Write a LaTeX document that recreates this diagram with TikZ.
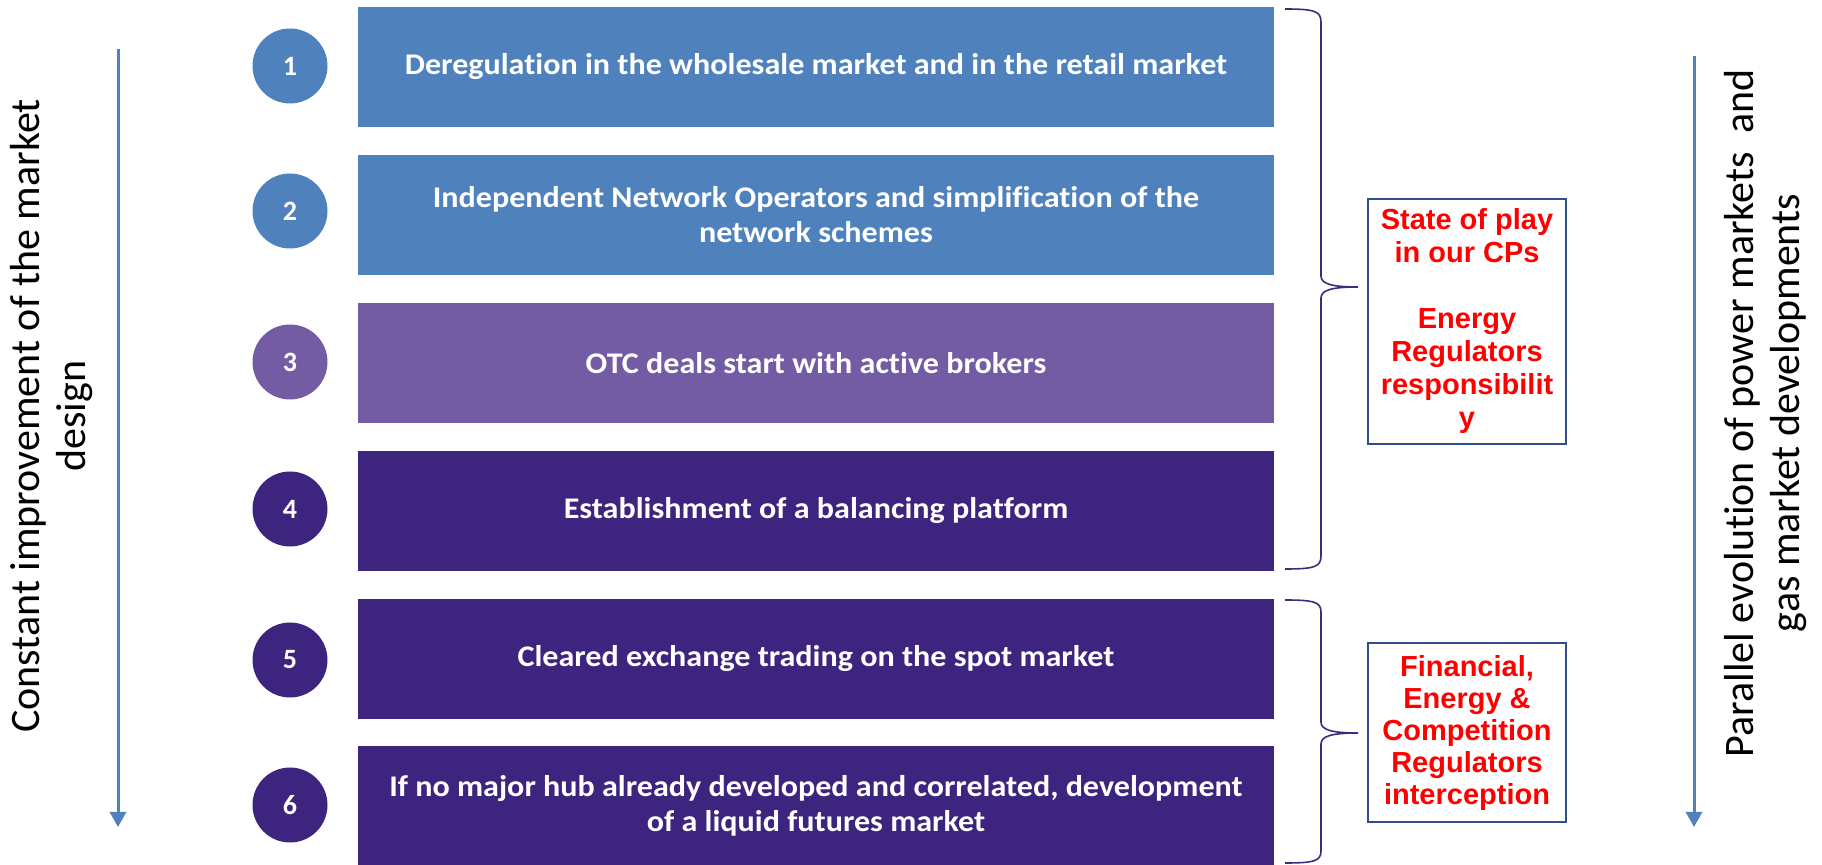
\documentclass[tikz,border=0pt]{standalone}
\usepackage{fontspec}
\setmainfont{Carlito}[Ligatures=NoCommon]
\newfontfamily\stepfont{Carlito}[FakeStretch=1.07, Ligatures=NoCommon]
\newfontfamily\notefont{Liberation Sans}
\usetikzlibrary{arrows.meta}

\definecolor{stepblue}{HTML}{4F81BD}
\definecolor{stepmauve}{HTML}{735CA3}
\definecolor{stepdark}{HTML}{3D247E}
\definecolor{bracecol}{HTML}{3F2A80}
\definecolor{frameblue}{HTML}{2E4F8C}
\definecolor{notered}{HTML}{FF0000}

\tikzset{
  stepbox/.style={rectangle, inner sep=0pt, minimum width=458pt, minimum height=60pt,
    text=white, align=center, font=\stepfont\fontsize{15}{17.5}\selectfont\bfseries},
  stepnum/.style={circle, inner sep=0pt, minimum size=37.5pt,
    text=white, font=\fontsize{14}{17}\selectfont\bfseries},
  notebox/.style={rectangle, draw=frameblue, line width=1pt, inner sep=0pt, minimum width=99pt,
    text=notered, align=center},
  sidetext/.style={rotate=90, align=center, font=\fontsize{21}{23}\selectfont},
  flow/.style={draw=stepblue, line width=1.5pt, -{Triangle[width=8pt,length=7.5pt]}},
  bracket/.style={draw=bracecol, line width=0.8pt}
}

\begin{document}
\begin{tikzpicture}[x=0.5pt, y=-0.5pt]
\useasboundingbox (0,0) rectangle (1822,865);

% step boxes
\node[stepbox, fill=stepblue]  (s1) at (816,67)  {Deregulation in the wholesale market and in the retail market};
\node[stepbox, fill=stepblue]  (s2) at (816,215) {Independent Network Operators and simplification of the\\network schemes};
\node[stepbox, fill=stepmauve] (s3) at (816,363) {OTC deals start with active brokers};
\node[stepbox, fill=stepdark]  (s4) at (816,511) {Establishment of a balancing platform};
\node[stepbox, fill=stepdark]  (s5) at (816,659) {Cleared exchange trading on the spot market};
\node[stepbox, fill=stepdark]  (s6) at (816,806) {If no major hub already developed and correlated, development\\of a liquid futures market};

% numbered circles
\node[stepnum, fill=stepblue]  (n1) at (290,66)  {1};
\node[stepnum, fill=stepblue]  (n2) at (290,211) {2};
\node[stepnum, fill=stepmauve] (n3) at (290,362) {3};
\node[stepnum, fill=stepdark]  (n4) at (290,509) {4};
\node[stepnum, fill=stepdark]  (n5) at (290,660) {5};
\node[stepnum, fill=stepdark]  (n6) at (290,805) {6};

% side arrows
\coordinate (la) at (118,49);
\coordinate (lb) at (118,827);
\draw[flow] (la) -- (lb);
\coordinate (ra) at (1694,56);
\coordinate (rb) at (1694,827);
\draw[flow] (ra) -- (rb);

% side captions
\node[sidetext] (lt) at (52,416) {Constant improvement of the market\\design};
\node[sidetext] (rt) at (1766,413) {Parallel evolution of power markets\ \ and\\gas market developments};

% braces
\draw[bracket] (1285,9) .. controls (1314,9) and (1321,11) .. (1321,22)
  -- (1321,276) .. controls (1321,284) and (1332,287) .. (1358,287)
  .. controls (1332,287) and (1321,290) .. (1321,298)
  -- (1321,556) .. controls (1321,567) and (1314,569) .. (1285,569);
\draw[bracket] (1285,600) .. controls (1314,600) and (1321,602) .. (1321,612)
  -- (1321,722) .. controls (1321,730) and (1332,733) .. (1358,733)
  .. controls (1332,733) and (1321,736) .. (1321,744)
  -- (1321,851) .. controls (1321,861) and (1314,863) .. (1285,863);

% notes
\node[notebox, minimum height=122.5pt, font=\notefont\bfseries\fontsize{14.5}{16.5}\selectfont] (c1) at (1467,321.5)
  {State of play\\in our CPs\\[16.5pt]Energy\\Regulators\\responsibilit\\y};
\node[notebox, minimum height=89.5pt, font=\notefont\bfseries\fontsize{14.5}{16}\selectfont] (c2) at (1467,733)
  {Financial,\\Energy \&\\Competition\\Regulators\\interception};
\end{tikzpicture}
\end{document}
